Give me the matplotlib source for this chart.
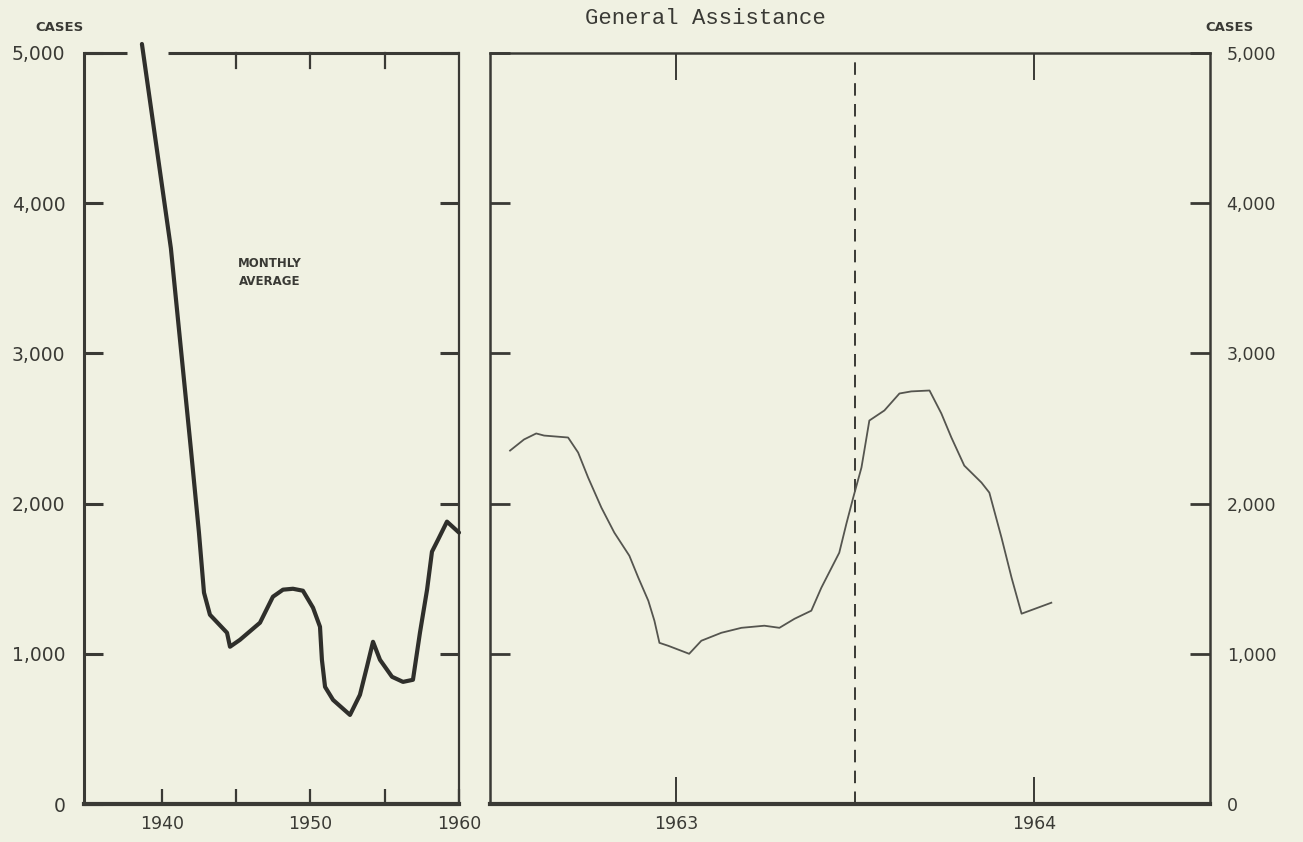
import numpy as np
import matplotlib
matplotlib.use("Agg")
import matplotlib.pyplot as plt
from matplotlib.lines import Line2D
import matplotlib.transforms as mtransforms

plt.rcParams['lines.scale_dashes'] = False

# ---------------- data ----------------
title = "General Assistance"
y_ticks = [0, 1000, 2000, 3000, 4000, 5000]
y_labels = ["0", "1,000", "2,000", "3,000", "4,000", "5,000"]

# left panel: monthly average 1939-1960
left_years = [1938.65, 1940.60, 1941.95, 1942.49, 1942.83, 1943.23, 1944.38, 1944.58,
              1945.25, 1946.60, 1947.47, 1948.15, 1948.82, 1949.49, 1950.17, 1950.64,
              1950.77, 1950.98, 1951.52, 1952.66, 1953.33, 1953.80, 1954.21, 1954.68,
              1955.49, 1956.23, 1956.90, 1957.37, 1957.85, 1958.18, 1958.59, 1959.19,
              1960.0]
left_cases = [5060, 3700, 2360, 1807, 1407, 1260, 1140, 1047,
              1093, 1207, 1380, 1427, 1433, 1420, 1307, 1180,
              960, 780, 693, 593, 727, 913, 1080, 960,
              847, 813, 827, 1140, 1427, 1680, 1760, 1880,
              1807]
left_xticks = [1940, 1945, 1950, 1955, 1960]
left_xlabels = ["1940", "", "1950", "", "1960"]
left_top_ticks = [1945, 1950, 1955]

# right panel: monthly 1962-1964
right_time = [1962.536, 1962.575, 1962.609, 1962.631, 1962.698, 1962.726, 1962.754,
              1962.791, 1962.827, 1962.869, 1962.894, 1962.922, 1962.939, 1962.953,
              1962.978, 1963.036, 1963.070, 1963.126, 1963.182, 1963.246, 1963.288,
              1963.330, 1963.377, 1963.405, 1963.455, 1963.475, 1963.494, 1963.517,
              1963.525, 1963.539, 1963.581, 1963.623, 1963.656, 1963.707, 1963.740,
              1963.768, 1963.804, 1963.852, 1963.874, 1963.908, 1963.936, 1963.964,
              1964.047]
right_cases = [2353, 2427, 2467, 2453, 2440, 2340, 2173,
               1973, 1807, 1653, 1507, 1353, 1220, 1073,
               1053, 1000, 1087, 1140, 1173, 1187, 1173,
               1233, 1287, 1440, 1673, 1867, 2040, 2240,
               2353, 2553, 2620, 2733, 2747, 2753, 2600,
               2440, 2253, 2140, 2073, 1773, 1507, 1267,
               1340]
right_xticks = [1963, 1964]
right_xlabels = ["1963", "1964"]
divider_year = 1963.5

# ---------------- style ----------------
bg = '#f0f1e2'
ink = '#3a3a35'
ink2 = '#55554f'

fig = plt.figure(figsize=(13.03, 8.42), dpi=100, facecolor=bg)
W, H = 1303, 842
def rect(x0, x1, ytop, ybot):
    return [x0 / W, (H - ybot) / H, (x1 - x0) / W, (ybot - ytop) / H]

axL = fig.add_axes(rect(84, 459, 53, 804))
axR = fig.add_axes(rect(490, 1210, 53, 804))

for ax in (axL, axR):
    ax.set_facecolor(bg)
    ax.set_ylim(0, 5000)
    ax.set_yticks(y_ticks)
    for s in ax.spines.values():
        s.set_color(ink)

# ---- left panel ----
axL.set_xlim(1934.75, 1960.0)
axL.plot(left_years, left_cases, color='#2f2f2b', lw=3.0, solid_joinstyle='round',
         solid_capstyle='round', clip_on=False, zorder=3)
axL.set_yticklabels(y_labels, fontsize=13.5, color=ink)
axL.tick_params(axis='y', direction='in', length=13.5, width=2.2, color=ink,
                left=True, right=True, labelleft=True, labelright=False, pad=13.5)
axL.set_xticks(left_xticks)
axL.set_xticklabels(left_xlabels, fontsize=12.5, color=ink)
axL.tick_params(axis='x', direction='in', length=10.5, width=1.6, color=ink, pad=8)
axL.spines['left'].set_linewidth(2.2)
axL.spines['bottom'].set_linewidth(3.0)
axL.spines['right'].set_linewidth(1.6)
axL.spines['top'].set_visible(False)
# top border broken where the curve leaves the frame
cross = np.interp(5000, left_cases[:3][::-1], left_years[:3][::-1])
gap_lo, gap_hi = cross - 1.1, cross + 1.7
tr = mtransforms.blended_transform_factory(axL.transData, axL.transAxes)
x0, x1 = axL.get_xlim()
for a, b in ((x0, gap_lo), (gap_hi, x1)):
    axL.add_line(Line2D([a, b], [1, 1], transform=tr, color=ink, lw=2.2,
                        clip_on=False, solid_capstyle='butt'))
for t in left_top_ticks:
    axL.add_line(Line2D([t, t], [1, 1 - 15 / 751], transform=tr, color=ink, lw=1.6,
                        clip_on=False))
axL.text(1947.25, 3540, "MONTHLY\nAVERAGE", ha='center', va='center',
         fontsize=8.5, fontweight='bold', color=ink, linespacing=1.5)

# ---- right panel ----
axR.set_xlim(1962.48, 1964.49)
axR.plot(right_time, right_cases, color=ink2, lw=1.3, zorder=3)
axR.axvline(divider_year, color=ink, lw=1.4, dashes=(9, 6), zorder=2)
axR.set_yticklabels(y_labels, fontsize=12.5, color=ink)
axR.tick_params(axis='y', direction='in', length=14.5, width=2.0, color=ink,
                left=True, right=True, labelleft=False, labelright=True, pad=12)
axR.set_xticks(right_xticks)
axR.set_xticklabels(right_xlabels, fontsize=12.5, color=ink)
axR.tick_params(axis='x', direction='in', length=19.5, width=1.4, color=ink,
                top=True, bottom=True, pad=8)
axR.spines['left'].set_linewidth(1.8)
axR.spines['top'].set_linewidth(1.8)
axR.spines['right'].set_linewidth(1.8)
axR.spines['bottom'].set_linewidth(3.0)

# ---- texts ----
fig.text(60 / W, 1 - 27.5 / H, "CASES", ha='center', va='center', fontsize=9.5,
         fontweight='bold', color=ink)
fig.text(1230 / W, 1 - 27.5 / H, "CASES", ha='center', va='center', fontsize=9.5,
         fontweight='bold', color=ink)
fig.text(705 / W, 1 - 18 / H, title, ha='center', va='center', fontsize=16,
         family='Liberation Mono', color=ink)

fig.savefig("out.png", dpi=100, facecolor=bg)
